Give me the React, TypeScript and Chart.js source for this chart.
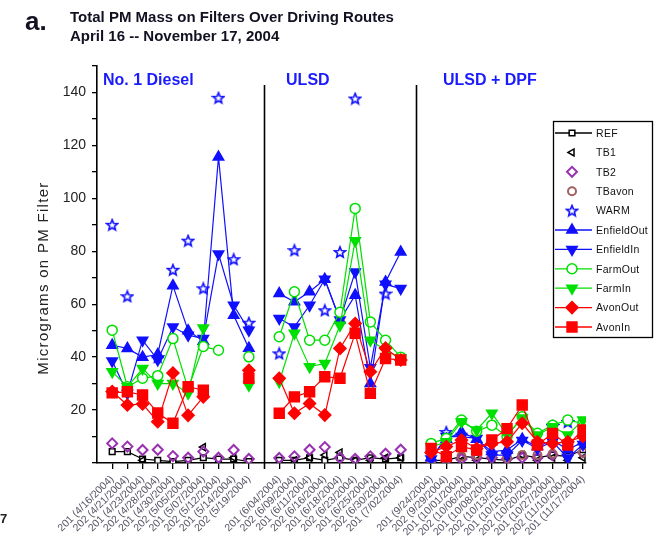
import React, { useEffect, useRef } from 'react';
import { Chart, registerables } from 'chart.js';
import { drawPoint } from 'chart.js/helpers';

Chart.register(...registerables);

// ---- categories (x tick labels) per fuel panel ----
const dieselDates = ['201 (4/16/2004)', '202 (4/21/2004)', '201 (4/23/2004)', '202 (4/28/2004)', '201 (4/30/2004)', '202 (5/05/2004)', '201 (5/07/2004)', '202 (5/12/2004)', '201 (5/14/2004)', '202 (5/19/2004)'];
const ulsdDates = ['201 (6/04/2004)', '202 (6/09/2004)', '201 (6/11/2004)', '202 (6/16/2004)', '201 (6/18/2004)', '202 (6/23/2004)', '201 (6/25/2004)', '202 (6/30/2004)', '201 (7/02/2004)'];
const dpfDates = ['201 (9/24/2004)', '202 (9/29/2004)', '201 (10/01/2004)', '202 (10/06/2004)', '201 (10/08/2004)', '202 (10/13/2004)', '201 (10/15/2004)', '202 (10/20/2004)', '201 (10/27/2004)', '202 (11/10/2004)', '201 (11/17/2004)'];

const panelNames = ['No. 1 Diesel', 'ULSD', 'ULSD + DPF'];
const yTickLabels = [20, 40, 60, 80, 100, 120, 140];

// ---- series values (10 diesel, 9 ULSD, 11 ULSD+DPF) ----
const refVals = [4.3, 4.3, 1.5, 1, 0.5, 1, 2, 1.5, 1.5, 0.5, 1, 1, 2, 1, 2, 1, 2, 1.5, 2, 1, 1, 2.5, 2, 1.5, 1, 3, 2, 3, 2.5, 5];
const tb1Vals = [null, null, 1, null, null, null, 6, null, 2, null, null, 1, 2, 3, 4, 1, 1, 2, 2, null, 1, 1, 1, 1.5, 2, 3, 1, 2, 1, 2];
const tb2Vals = [7.4, 6.2, 4.9, 5, 2.6, 2, 4.3, 2, 4.9, 1.5, 1.9, 2.5, 5, 6, 2, 1.5, 2.5, 3.5, 5, 1, 1, 1.5, 2, 2, 1.5, 2, 2, 3, 3, 4];
const tbavonVals = [null, null, null, null, null, null, null, null, null, null, null, null, null, null, null, null, null, null, null, 1, 2, 2.5, 3, 3, 2, 3, 3, 3.5, 4, 4];
const warmVals = [90, 63, null, 40, 73, 84, 66, 138, 77, 53, 41.4, 80.4, null, 57.7, 79.7, 137.7, null, 64, null, null, 11.7, null, null, null, null, null, null, 14, 15.5, null];
const enfieldOutVals = [44.5, 43.3, 40, 41, 67, 50, 46, 115.6, 55.8, 43.4, 64, 60.9, 64.7, 69.4, 54, 63.4, 30, 68.4, 79.7, 2, 9, 11.7, 9, 4.3, 4.9, 9, 6.2, 8.7, 5, 8];
const enfieldInVals = [38.5, 26.4, 46.4, 39, 51.4, 48.3, 47, 79, 59.6, 50.2, 54.6, 51.4, 59.6, 69.4, 54, 72.2, 36, 67.5, 65.9, 1.5, 10, 10, 9.3, 3, 3, 8.5, 5.5, 8, 1.9, 7];
const farmOutVals = [50.2, 28.8, 32, 33, 47, 28, 44, 42.6, null, 40.1, 47.7, 64.7, 46.4, 46.4, 57, 96.2, 53.3, 46.4, 40, 7.4, 9.3, 16.2, 12, 14.3, 10, 17.5, 11.2, 14.3, 16.2, 15];
const farmInVals = [34.5, 28.8, 35.7, 30, 30, 26.4, 51, null, null, 29.4, 30.7, 49, 36.4, 37.6, 52, 84, 46.4, 42.6, 39.6, 6, 8, 15.6, 12.5, 18.8, 10.6, 17, 10.6, 13.7, 10.6, 16.2];
const avonOutVals = [27, 21.9, 22.3, 15.6, 34, 18, 25, null, null, 35, 32, 18.8, 22.5, 18.1, 43.3, 52.7, 34.5, 43.4, 38.9, 4, 6.2, 8.7, 5.5, 7.4, 8, 15, 8, 7.4, 8, 10];
const avonInVals = [26.5, 26.9, 25.7, 18.9, 15, 28.8, 27.5, null, null, 32, 18.8, 25, 26.9, 32.6, 32, 49, 26.3, 39.5, 38.9, 5.5, 2.4, 6.2, 4.9, 8.7, 13, 21.9, 6.8, 11.2, 6.8, 12.5];

const BLUE = '#1010ff';
const GREEN = '#00e000';
const RED = '#ff0000';

// x positions: each panel gets its own run of slots, separated by one empty slot
const panels = [dieselDates, ulsdDates, dpfDates];
const positions: number[] = [];
const labelAt = new Map<number, string>();
const dividers: number[] = [];
{
  let slot = 1;
  panels.forEach((dates, p) => {
    dates.forEach((d) => {
      positions.push(slot);
      labelAt.set(slot, d);
      slot++;
    });
    if (p < panels.length - 1) dividers.push(slot);
    slot++;
  });
}
const panelStarts = [0, dividers[0], dividers[1]];

function toPoints(vals: (number | null)[]) {
  const pts: { x: number; y: number | null }[] = [];
  vals.forEach((v, i) => {
    if (i > 0 && positions[i] - positions[i - 1] > 1) pts.push({ x: positions[i] - 1, y: null });
    pts.push({ x: positions[i], y: v });
  });
  return pts;
}

function makeStar(color: string) {
  const size = 14;
  const c = document.createElement('canvas');
  c.width = size;
  c.height = size;
  const ctx = c.getContext('2d')!;
  ctx.strokeStyle = color;
  ctx.lineWidth = 1.6;
  ctx.beginPath();
  const cx = size / 2, cy = size / 2 + 0.5, R = 5.6, r = 2.5;
  for (let i = 0; i < 10; i++) {
    const a = -Math.PI / 2 + (i * Math.PI) / 5;
    const rad = i % 2 ? r : R;
    const px = cx + rad * Math.cos(a), py = cy + rad * Math.sin(a);
    if (i === 0) ctx.moveTo(px, py); else ctx.lineTo(px, py);
  }
  ctx.closePath();
  ctx.stroke();
  return c;
}

const FONT = '"Liberation Sans", Arial, Helvetica, sans-serif';

const decorPlugin = {
  id: 'decor',
  beforeDatasetsDraw(chart: any) {
    const { ctx, chartArea, scales } = chart;
    ctx.save();
    ctx.strokeStyle = '#000';
    ctx.lineWidth = 1.6;
    dividers.forEach((d) => {
      const x = Math.round(scales.x.getPixelForValue(d)) + 0.5;
      ctx.beginPath();
      ctx.moveTo(x, 85);
      ctx.lineTo(x, chartArea.bottom + 6);
      ctx.stroke();
    });
    ctx.restore();
  },
  afterDraw(chart: any) {
    const { ctx, scales } = chart;
    ctx.save();
    // panel labels
    ctx.fillStyle = '#1a1aff';
    ctx.font = `bold 16px ${FONT}`;
    ctx.textBaseline = 'alphabetic';
    ctx.textAlign = 'left';
    const offs = [6, 22, 27];
    panelNames.forEach((n, i) => {
      const x = scales.x.getPixelForValue(panelStarts[i]) + offs[i];
      ctx.fillText(n, x, 85);
    });
    // y axis title
    ctx.fillStyle = '#222';
    ctx.font = `15px ${FONT}`;
    (ctx as any).letterSpacing = '1.3px';
    ctx.translate(44, 278);
    ctx.rotate(-Math.PI / 2);
    ctx.textAlign = 'center';
    ctx.textBaseline = 'middle';
    ctx.fillText('Micrograms on PM Filter', 0, 0);
    ctx.restore();

    ctx.save();
    ctx.fillStyle = '#222';
    ctx.font = `bold 13px ${FONT}`;
    ctx.fillText('7', 0, 523);
    ctx.restore();

    // legend box
    ctx.save();
    const bx = 553, by = 121, bw = 99, bh = 216;
    ctx.fillStyle = '#fff';
    ctx.fillRect(bx, by, bw, bh);
    ctx.strokeStyle = '#000';
    ctx.lineWidth = 1.3;
    ctx.strokeRect(bx + 0.5, by + 0.5, bw, bh);
    chart.data.datasets.forEach((ds: any, i: number) => {
      const y = 133 + i * 19.4;
      if (ds.showLine !== false) {
        ctx.strokeStyle = ds.borderColor;
        ctx.lineWidth = 1.3;
        ctx.beginPath();
        ctx.moveTo(bx + 2, y);
        ctx.lineTo(bx + 39, y);
        ctx.stroke();
      }
      ctx.fillStyle = ds.pointBackgroundColor;
      ctx.strokeStyle = ds.pointBorderColor || ds.borderColor;
      ctx.lineWidth = ds.pointBorderWidth;
      drawPoint(ctx, {
        pointStyle: ds.pointStyle,
        rotation: ds.pointRotation || 0,
        radius: ds.pointRadius,
        borderWidth: ds.pointBorderWidth,
      } as any, bx + 19, y);
      ctx.fillStyle = '#111';
      ctx.font = `10.5px ${FONT}`;
      (ctx as any).letterSpacing = '0.3px';
      ctx.textAlign = 'left';
      ctx.textBaseline = 'middle';
      ctx.fillText(ds.label, bx + 43, y + 1);
    });
    ctx.restore();
  },
};

export default function App() {
  const canvasRef = useRef<HTMLCanvasElement | null>(null);

  useEffect(() => {
    const canvas = canvasRef.current;
    if (!canvas) return;
    const star = makeStar(BLUE);

    const mk = (label: string, vals: (number | null)[], o: any) => ({
      label,
      data: toPoints(vals),
      borderWidth: 1.2,
      pointBorderWidth: 1.5,
      spanGaps: false,
      ...o,
    });

    const datasets = [
      mk('REF', refVals, { borderColor: '#000', pointBackgroundColor: '#fff', pointStyle: 'rect', pointRadius: 4, order: 10 }),
      mk('TB1', tb1Vals, { borderColor: '#000', pointBackgroundColor: 'rgba(0,0,0,0)', pointStyle: 'triangle', pointRotation: -90, pointRadius: 4, showLine: false, order: 9 }),
      mk('TB2', tb2Vals, { borderColor: '#9932b0', pointBackgroundColor: 'rgba(0,0,0,0)', pointStyle: 'rectRot', pointRadius: 5, pointBorderWidth: 2, showLine: false, order: 8 }),
      mk('TBavon', tbavonVals, { borderColor: '#a06060', pointBackgroundColor: 'rgba(0,0,0,0)', pointStyle: 'circle', pointRadius: 4, pointBorderWidth: 2, showLine: false, order: 7 }),
      mk('WARM', warmVals, { borderColor: BLUE, pointBackgroundColor: BLUE, pointStyle: star, pointRadius: 6, showLine: false, order: 6 }),
      mk('EnfieldOut', enfieldOutVals, { borderColor: BLUE, pointBackgroundColor: BLUE, pointStyle: 'triangle', pointRadius: 6, order: 5 }),
      mk('EnfieldIn', enfieldInVals, { borderColor: BLUE, pointBackgroundColor: BLUE, pointStyle: 'triangle', pointRotation: 180, pointRadius: 6, order: 4 }),
      mk('FarmOut', farmOutVals, { borderColor: GREEN, pointBackgroundColor: '#fff', pointStyle: 'circle', pointRadius: 5, order: 3 }),
      mk('FarmIn', farmInVals, { borderColor: GREEN, pointBackgroundColor: GREEN, pointStyle: 'triangle', pointRotation: 180, pointRadius: 6, order: 2 }),
      mk('AvonOut', avonOutVals, { borderColor: RED, pointBackgroundColor: RED, pointStyle: 'rectRot', pointRadius: 6, order: 1 }),
      mk('AvonIn', avonInVals, { borderColor: RED, pointBackgroundColor: RED, pointStyle: 'rect', pointRadius: 7, order: 0 }),
    ];

    const chart = new Chart(canvas, {
      type: 'line',
      data: { datasets } as any,
      plugins: [decorPlugin],
      options: {
        responsive: false,
        animation: false,
        events: [],
        layout: { padding: { top: 66, right: 72, left: 0, bottom: 0 } },
        plugins: { legend: { display: false }, tooltip: { enabled: false } },
        scales: {
          x: {
            type: 'linear',
            min: 0,
            max: 32.2,
            afterFit: (s: any) => { s.height = 75; },
            afterBuildTicks: (s: any) => { s.ticks = positions.map((v) => ({ value: v })); },
            grid: { drawOnChartArea: false, drawTicks: true, tickLength: 6, color: '#000', lineWidth: 1.3 },
            border: { color: '#000', width: 1.6 },
            ticks: {
              autoSkip: false,
              minRotation: 45,
              maxRotation: 45,
              padding: 4,
              color: '#556',
              font: { size: 10.5, family: FONT },
              callback: (v: any) => labelAt.get(Number(v)) ?? '',
            },
          },
          y: {
            min: 0,
            max: 150,
            afterFit: (s: any) => { s.width = 97; },
            grid: { drawOnChartArea: false, drawTicks: true, tickLength: 5, color: '#000', lineWidth: 1.3 },
            border: { color: '#000', width: 1.6 },
            ticks: {
              stepSize: 10,
              padding: 6,
              color: '#222',
              font: { size: 14, family: FONT },
              callback: (v: any) => (yTickLabels.includes(Number(v)) ? String(v) : ''),
            },
          },
        },
      } as any,
    });
    return () => chart.destroy();
  }, []);

  const titleStyle: React.CSSProperties = {
    position: 'absolute',
    fontFamily: FONT,
    fontWeight: 'bold',
    color: '#111122',
    whiteSpace: 'nowrap',
  };

  return (
    <div style={{ position: 'fixed', left: 0, top: 0, width: 658, height: 538, background: '#fff' }}>
      <canvas ref={canvasRef} width={658} height={538} style={{ position: 'absolute', left: 0, top: 0 }} />
      <div style={{ ...titleStyle, left: 25, top: 8, fontSize: 26, lineHeight: '26px' }}>a.</div>
      <div style={{ ...titleStyle, left: 70, top: 8, fontSize: 15, lineHeight: '17px' }}>Total PM Mass on Filters Over Driving Routes</div>
      <div style={{ ...titleStyle, left: 70, top: 27, fontSize: 15, lineHeight: '17px' }}>April 16 -- November 17, 2004</div>
    </div>
  );
}
